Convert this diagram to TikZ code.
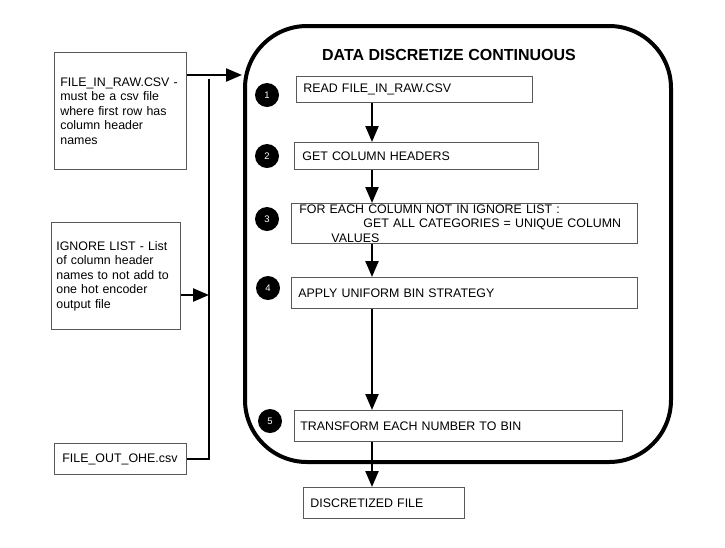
\documentclass[tikz,border=0pt]{standalone}
\usepackage{fontspec}
\setmainfont{Liberation Sans}
\usetikzlibrary{arrows.meta}

\tikzset{
  box/.style={draw=black!65, line width=0.8pt, fill=white, anchor=north west,
    align=left, inner ysep=0pt, font=\fontsize{12.4}{14.5}\selectfont},
  num/.style={circle, fill=black, text=white, minimum size=24pt, inner sep=0pt,
    font=\fontsize{9.5}{9.5}\selectfont},
  arr/.style={line width=2.3pt, -{Triangle[length=16pt,width=13pt]}},
}

\begin{document}
\begin{tikzpicture}[x=1pt, y=-1pt]
\useasboundingbox (0,0) rectangle (725,547);

% frame
\draw [line width=4pt, rounded corners=62pt] (245,26) rectangle (671,462);
\node [font=\bfseries\fontsize{16}{16}\selectfont] (title) at (449,55) {DATA DISCRETIZE CONTINUOUS};

% inputs
\node [box, inner xsep=6pt, text width=120pt, minimum height=117pt] (A) at (54,52)
  {FILE\_IN\_RAW.CSV -\\must be a csv file\\where first row has\\column header\\names};
\node [box, inner xsep=5pt, text width=119pt, minimum height=107pt] (B) at (51,222)
  {IGNORE LIST - List\\of column header\\names to not add to\\one hot encoder\\output file};
\node [box, inner xsep=8pt, text width=116pt, minimum height=31pt] (F) at (54,443)
  {FILE\_OUT\_OHE.csv};

% steps
\node [box, inner xsep=7pt, text width=222pt, minimum height=26pt] (S1) at (296,76) {READ FILE\_IN\_RAW.CSV};
\node [box, inner xsep=8pt, text width=228pt, minimum height=27pt] (S2) at (294,142) {GET COLUMN HEADERS};
\node [box, inner xsep=8pt, text width=330pt, minimum height=40pt] (S3) at (291,203)
  {FOR EACH COLUMN NOT IN IGNORE LIST :\\\hspace*{64pt}GET ALL CATEGORIES = UNIQUE COLUMN\\\hspace*{32pt}VALUES};
\node [box, inner xsep=7pt, text width=332pt, minimum height=31pt] (S4) at (291,277) {APPLY UNIFORM BIN STRATEGY};
\node [box, inner xsep=6pt, text width=316pt, minimum height=31pt] (S5) at (294,410) {TRANSFORM EACH NUMBER TO BIN};
\node [box, inner xsep=7pt, text width=147pt, minimum height=31pt] (OUT) at (303,487) {DISCRETIZED FILE};

% numbers
\node [num] (c1) at (267,95) {1};
\node [num] (c2) at (267,156) {2};
\node [num] (c3) at (267,219) {3};
\node [num] (c4) at (268,288) {4};
\node [num] (c5) at (270,421) {5};

% joints
\coordinate (J1) at (209,79);
\coordinate (K) at (209,295);
\coordinate (T) at (242,75);
\coordinate (X) at (372,0);

\draw [arr] (A.east |- T) -- (T);
\draw [line width=2.3pt] (F.east) -- (F.east -| J1) -- (J1);
\draw [arr] (B.east |- K) -- (K);

\path [every edge/.style={draw, arr}]
    (S1.south -| X) edge (S2.north -| X)
    (S2.south -| X) edge (S3.north -| X)
    (S3.south -| X) edge (S4.north -| X)
    (S4.south -| X) edge (S5.north -| X)
    (S5.south -| X) edge (OUT.north -| X)
    ;
\end{tikzpicture}
\end{document}
